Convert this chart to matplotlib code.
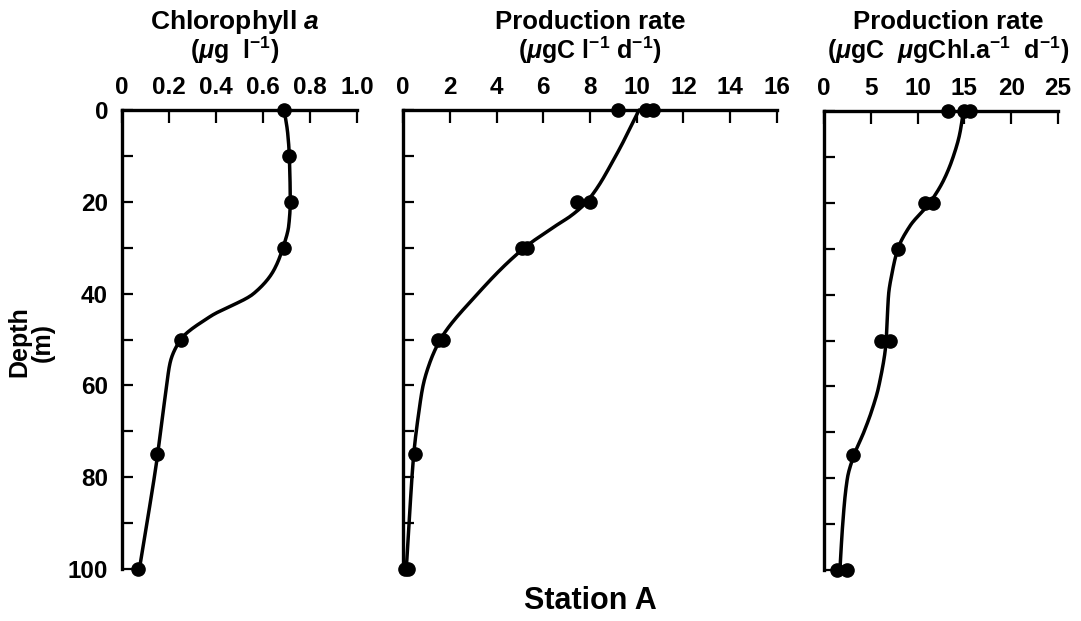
import numpy as np
import matplotlib
matplotlib.use("Agg")
import matplotlib.pyplot as plt

plt.rcParams["font.family"] = ["Liberation Sans", "DejaVu Sans"]
plt.rcParams["font.weight"] = "bold"
plt.rcParams["mathtext.fontset"] = "custom"
plt.rcParams["mathtext.rm"] = "Liberation Sans:bold"
plt.rcParams["mathtext.it"] = "Liberation Sans:bold:italic"
plt.rcParams["mathtext.bf"] = "Liberation Sans:bold"

# ---- data (Station A) ----
# measured points (replicates share a depth)
chl_depth = [0, 10, 20, 30, 50, 75, 100]
chl_value = [0.69, 0.71, 0.72, 0.69, 0.25, 0.15, 0.07]

prod_depth = [0, 0, 0, 20, 20, 30, 30, 50, 50, 75, 100, 100]
prod_value = [9.2, 10.4, 10.7, 7.45, 8.0, 5.1, 5.3, 1.5, 1.7, 0.5, 0.1, 0.2]

spec_depth = [0, 0, 0, 20, 20, 30, 50, 50, 75, 100, 100]
spec_value = [13.2, 15.0, 15.6, 10.8, 11.6, 7.9, 6.1, 7.1, 3.1, 1.4, 2.5]

# hand-drawn fitted curves
chl_curve_depth = [0, 5, 10, 20, 25, 30, 35, 40, 45, 50, 55, 60, 75, 100]
chl_curve_value = [0.69, 0.705, 0.712, 0.716, 0.71, 0.685, 0.645, 0.56, 0.375,
                   0.25, 0.205, 0.19, 0.152, 0.074]

prod_curve_depth = [0, 10, 20, 23, 25, 30, 40, 50, 55, 60, 65, 75, 90, 100]
prod_curve_value = [10.1, 9.1, 7.86, 7.2, 6.6, 5.2, 3.2, 1.6, 1.15, 0.86,
                    0.7, 0.46, 0.26, 0.14]

spec_curve_depth = [0, 5, 10, 15, 20, 25, 30, 35, 40, 50, 60, 65, 70, 75, 80, 90, 100]
spec_curve_value = [14.9, 14.5, 13.8, 12.8, 11.3, 9.2, 7.9, 7.3, 6.9, 6.65, 5.85,
                    5.15, 4.25, 3.2, 2.5, 2.0, 1.7]


def pchip(xk, yk, x):
    xk = np.asarray(xk, float)
    yk = np.asarray(yk, float)
    h = np.diff(xk)
    delta = np.diff(yk) / h
    d = np.zeros_like(yk)
    for k in range(1, len(xk) - 1):
        if delta[k - 1] * delta[k] > 0:
            w1 = 2 * h[k] + h[k - 1]
            w2 = h[k] + 2 * h[k - 1]
            d[k] = (w1 + w2) / (w1 / delta[k - 1] + w2 / delta[k])
    d[0] = delta[0]
    d[-1] = delta[-1]
    idx = np.clip(np.searchsorted(xk, x) - 1, 0, len(h) - 1)
    t = (x - xk[idx]) / h[idx]
    h00 = 2 * t**3 - 3 * t**2 + 1
    h10 = t**3 - 2 * t**2 + t
    h01 = -2 * t**3 + 3 * t**2
    h11 = t**3 - t**2
    return (h00 * yk[idx] + h10 * h[idx] * d[idx]
            + h01 * yk[idx + 1] + h11 * h[idx] * d[idx + 1])


W, H = 1081, 621
fig = plt.figure(figsize=(W / 100, H / 100), dpi=100)


def px_axes(l, r, t, b):
    return [l / W, 1 - b / H, (r - l) / W, (b - t) / H]


def style(ax, xticks, xlabels, ylabels):
    ax.set_xlim(xticks[0], xticks[-1])
    ax.set_ylim(100, 0)
    for s in ["right", "bottom"]:
        ax.spines[s].set_visible(False)
    for s in ["left", "top"]:
        ax.spines[s].set_linewidth(2.4)
    ax.xaxis.tick_top()
    ax.set_xticks(xticks)
    ax.set_xticklabels(xlabels)
    ax.tick_params(axis="x", direction="in", length=9, width=1.6, pad=8,
                   labelsize=17.5)
    if ylabels:
        ax.set_yticks(range(0, 101, 20))
        ax.set_yticks(range(10, 100, 20), minor=True)
        ax.tick_params(axis="y", which="both", direction="in", length=8,
                       width=1.6, pad=10, labelsize=17.5)
    else:
        ax.set_yticks(range(0, 101, 10))
        ax.tick_params(axis="y", direction="in", length=8, width=1.6,
                       labelleft=False)


def draw(ax, cd, cv, pd_, pv):
    grid = np.linspace(0, 100, 400)
    ax.plot(pchip(cd, cv, grid), grid, color="black", lw=2.5,
            solid_capstyle="round", clip_on=False)
    ax.plot(pv, pd_, "o", color="black", ms=9.5, clip_on=False, zorder=5)


ax1 = fig.add_axes(px_axes(122, 357, 110, 569))
ax2 = fig.add_axes(px_axes(403, 777, 110, 569))
ax3 = fig.add_axes(px_axes(824, 1058, 111, 570))

style(ax1, [0, 0.2, 0.4, 0.6, 0.8, 1.0],
      ["0", "0.2", "0.4", "0.6", "0.8", "1.0"], True)
style(ax2, list(range(0, 17, 2)), [str(v) for v in range(0, 17, 2)], False)
style(ax3, list(range(0, 26, 5)), [str(v) for v in range(0, 26, 5)], False)

draw(ax1, chl_curve_depth, chl_curve_value, chl_depth, chl_value)
draw(ax2, prod_curve_depth, prod_curve_value, prod_depth, prod_value)
draw(ax3, spec_curve_depth, spec_curve_value, spec_depth, spec_value)


def ftext(x, y, s, **kw):
    fig.text(x / W, 1 - y / H, s, ha="center", va="center", **kw)


ftext(235, 22, r"Chlorophyll $\mathit{a}$", fontsize=19)
ftext(235, 50, r"($\mu$g  l$^{-1}$)", fontsize=18)
ftext(590, 22, "Production rate", fontsize=18.5)
ftext(590, 50, r"($\mu$gC l$^{-1}$ d$^{-1}$)", fontsize=18)
ftext(948, 22, "Production rate", fontsize=18.5)
ftext(948, 50, r"($\mu$gC  $\mu$gChl.a$^{-1}$  d$^{-1}$)", fontsize=18)

ftext(31, 342, "Depth\n(m)", fontsize=18, rotation=90, linespacing=0.95)
ftext(590, 601, "Station A", fontsize=22)

fig.savefig("out.png", dpi=100)
